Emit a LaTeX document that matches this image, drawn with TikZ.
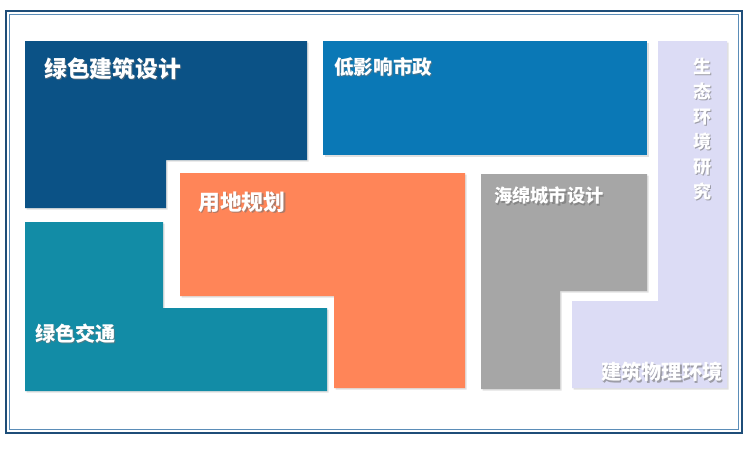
\documentclass[tikz,border=0pt]{standalone}
\usepackage{fontspec}
\newfontfamily\cjk{Noto Sans CJK SC}
\definecolor{frameblue}{HTML}{1F4E79}
\definecolor{frameinner}{HTML}{5B8DB8}
\definecolor{gbd}{HTML}{0B5286}
\definecolor{lim}{HTML}{0A78B6}
\definecolor{lup}{HTML}{FF8558}
\definecolor{gtr}{HTML}{128CA6}
\definecolor{sponge}{HTML}{A6A6A6}
\definecolor{eco}{HTML}{DCDCF5}
\tikzset{
  blockshadow/.style={fill=black, opacity=0.12},
  lbl/.style={text=white, inner sep=0pt, anchor=west},
  lblshadow/.style={text=black!55, opacity=0.6, inner sep=0pt, anchor=west},
}
\begin{document}
\begin{tikzpicture}[x=1pt,y=-1pt]
\useasboundingbox (0,0) rectangle (751,453);
\fill[white] (0,0) rectangle (751,453);
% frame
\draw[frameblue, line width=2.8pt] (6,11) rectangle (742,433);
\draw[frameinner, line width=1.2pt] (9.5,14.5) rectangle (738.5,429.5);
% shadows
\begin{scope}[shift={(1.5,1.5)}]
\fill[blockshadow] (25,41) -- (307,41) -- (307,160) -- (166,160) -- (166,208) -- (25,208) -- cycle;
\fill[blockshadow] (323,41) rectangle (647,155);
\fill[blockshadow] (180,173) -- (465,173) -- (465,388) -- (334,388) -- (334,296) -- (180,296) -- cycle;
\fill[blockshadow] (25,222) -- (163,222) -- (163,308) -- (327,308) -- (327,391) -- (25,391) -- cycle;
\fill[blockshadow] (481,174) -- (647,174) -- (647,291) -- (560,291) -- (560,389) -- (481,389) -- cycle;
\fill[blockshadow] (658,41) -- (727,41) -- (727,388) -- (572,388) -- (572,301) -- (658,301) -- cycle;
\end{scope}
% blocks
\fill[gbd] (25,41) -- (307,41) -- (307,160) -- (166,160) -- (166,208) -- (25,208) -- cycle;
\fill[lim] (323,41) rectangle (647,155);
\fill[lup] (180,173) -- (465,173) -- (465,388) -- (334,388) -- (334,296) -- (180,296) -- cycle;
\fill[gtr] (25,222) -- (163,222) -- (163,308) -- (327,308) -- (327,391) -- (25,391) -- cycle;
\fill[sponge] (481,174) -- (647,174) -- (647,291) -- (560,291) -- (560,389) -- (481,389) -- cycle;
\fill[eco] (658,41) -- (727,41) -- (727,388) -- (572,388) -- (572,301) -- (658,301) -- cycle;
% labels
\node[lblshadow, font=\cjk\bfseries\fontsize{22.8}{22.8}\selectfont] (s1) at (45,70) {绿色建筑设计};
\node[lbl, font=\cjk\bfseries\fontsize{22.8}{22.8}\selectfont] (t1) at (44,69) {绿色建筑设计};
\node[lblshadow, font=\cjk\bfseries\fontsize{19.6}{19.6}\selectfont] (s2) at (335,68) {低影响市政};
\node[lbl, font=\cjk\bfseries\fontsize{19.6}{19.6}\selectfont] (t2) at (334,67) {低影响市政};
\node[lblshadow, font=\cjk\bfseries\fontsize{21.8}{21.8}\selectfont] (s3) at (199.5,203.5) {用地规划};
\node[lbl, font=\cjk\bfseries\fontsize{21.8}{21.8}\selectfont] (t3) at (198,202) {用地规划};
\node[lblshadow, font=\cjk\bfseries\fontsize{18.2}{18.2}\selectfont] (s4) at (495.5,197.5) {海绵城市设计};
\node[lbl, font=\cjk\bfseries\fontsize{18.2}{18.2}\selectfont] (t4) at (494,196) {海绵城市设计};
\node[lblshadow, font=\cjk\bfseries\fontsize{20.2}{20.2}\selectfont] (s5) at (36,335) {绿色交通};
\node[lbl, font=\cjk\bfseries\fontsize{20.2}{20.2}\selectfont] (t5) at (35,334) {绿色交通};
\node[lblshadow, font=\cjk\bfseries\fontsize{20.2}{20.2}\selectfont] (s6) at (602.5,373.5) {建筑物理环境};
\node[lbl, font=\cjk\bfseries\fontsize{20.2}{20.2}\selectfont] (t6) at (601,372) {建筑物理环境};
\node[lblshadow, anchor=center, align=center, font=\cjk\bfseries\fontsize{18}{25}\selectfont] (s7) at (703.5,130.5) {生\\态\\环\\境\\研\\究};
\node[lbl, anchor=center, align=center, font=\cjk\bfseries\fontsize{18}{25}\selectfont] (t7) at (702,129) {生\\态\\环\\境\\研\\究};
\end{tikzpicture}
\end{document}
